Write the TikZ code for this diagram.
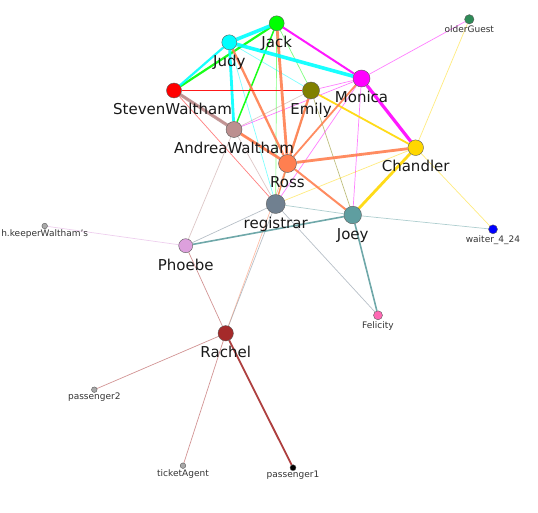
\documentclass[tikz,border=0pt]{standalone}
\usepackage{fontspec}
\setmainfont{DejaVu Sans}
\usetikzlibrary{calc}
\pgfdeclarelayer{bg}
\pgfsetlayers{bg,main}
\definecolor{cJack}{HTML}{00FF00}
\definecolor{cJudy}{HTML}{00FFFF}
\definecolor{cSteven}{HTML}{FF0000}
\definecolor{cEmily}{HTML}{808000}
\definecolor{cMonica}{HTML}{FF00FF}
\definecolor{cAndrea}{HTML}{BC8F8F}
\definecolor{cRoss}{HTML}{FF7F50}
\definecolor{cChandler}{HTML}{FFD700}
\definecolor{cRegistrar}{HTML}{708090}
\definecolor{cJoey}{HTML}{5F9EA0}
\definecolor{cPhoebe}{HTML}{DDA0DD}
\definecolor{cGrey}{HTML}{A9A9A9}
\definecolor{cRachel}{HTML}{A52A2A}
\definecolor{cFelicity}{HTML}{FF69B4}
\definecolor{cWaiter}{HTML}{0000FF}
\definecolor{cOlder}{HTML}{2E8B57}
\tikzset{
  pn/.style 2 args={circle, fill=#1, draw=black!65, line width=0.4pt, inner sep=0pt, minimum size=#2},
  biglbl/.style={anchor=base, inner sep=0pt, font=\fontsize{15}{18}\selectfont, text=black!90},
  smalllbl/.style={anchor=base, inner sep=0pt, font=\fontsize{9}{11}\selectfont, text=black!80},
  tk/.style 2 args={draw=#1, line width=#2, opacity=0.9},
  tn/.style={draw=#1, line width=0.7pt, opacity=0.5}
}
\begin{document}
\begin{tikzpicture}[x=1pt,y=-1pt]
\useasboundingbox (0,0) rectangle (538,513);
% nodes
\node[pn={cJack}{15pt}] (jack) at (276.7,23.3) {};
\node[pn={cJudy}{15pt}] (judy) at (229.3,42.3) {};
\node[pn={cSteven}{15pt}] (steven) at (174,90.5) {};
\node[pn={cEmily}{17pt}] (emily) at (311,90.5) {};
\node[pn={cMonica}{17pt}] (monica) at (361.5,78.5) {};
\node[pn={cAndrea}{16pt}] (andrea) at (234,129.5) {};
\node[pn={cRoss}{18pt}] (ross) at (287.5,163.5) {};
\node[pn={cChandler}{15.6pt}] (chandler) at (415.7,147.7) {};
\node[pn={cRegistrar}{19pt}] (registrar) at (275.7,204) {};
\node[pn={cJoey}{17.6pt}] (joey) at (352.7,215) {};
\node[pn={cPhoebe}{14pt}] (phoebe) at (185.7,245.7) {};
\node[pn={cGrey}{5.6pt}] (hkeeper) at (44.7,226) {};
\node[pn={cRachel}{15.4pt}] (rachel) at (225.7,333.3) {};
\node[pn={cFelicity}{9pt}] (felicity) at (378,315.3) {};
\node[pn={cWaiter}{9pt}] (waiter) at (493,229.3) {};
\node[pn={cOlder}{9.4pt}] (older) at (469.3,19.3) {};
\node[pn={cGrey}{5.6pt}] (pass2) at (94.3,389.7) {};
\node[pn={cGrey}{5.6pt}] (ticket) at (183,465.7) {};
\node[pn={black}{6pt}] (pass1) at (293,467.7) {};
% labels
\node[biglbl] (jackL) at ($(jack)+(0,24.5)$) {Jack};
\node[biglbl] (judyL) at ($(judy)+(0,24.5)$) {Judy};
\node[biglbl] (stevenL) at ($(steven)+(-1.5,24)$) {StevenWaltham};
\node[biglbl] (emilyL) at ($(emily)+(0,24.5)$) {Emily};
\node[biglbl] (monicaL) at ($(monica)+(0,24.5)$) {Monica};
\node[biglbl] (andreaL) at ($(andrea)+(0,24.5)$) {AndreaWaltham};
\node[biglbl] (rossL) at ($(ross)+(0,24.5)$) {Ross};
\node[biglbl] (chandlerL) at ($(chandler)+(0,23.5)$) {Chandler};
\node[biglbl] (registrarL) at ($(registrar)+(0,24.5)$) {registrar};
\node[biglbl] (joeyL) at ($(joey)+(0,24.5)$) {Joey};
\node[biglbl] (phoebeL) at ($(phoebe)+(0,24.5)$) {Phoebe};
\node[biglbl] (rachelL) at ($(rachel)+(0,24.5)$) {Rachel};
\node[smalllbl] (hkeeperL) at ($(hkeeper)+(0,10.5)$) {h.keeperWaltham's};
\node[smalllbl] (felicityL) at ($(felicity)+(0,13)$) {Felicity};
\node[smalllbl] (waiterL) at ($(waiter)+(0,13.3)$) {waiter\_4\_24};
\node[smalllbl] (olderL) at ($(older)+(0,13.4)$) {olderGuest};
\node[smalllbl] (pass2L) at ($(pass2)+(0,9.6)$) {passenger2};
\node[smalllbl] (ticketL) at ($(ticket)+(0,10.3)$) {ticketAgent};
\node[smalllbl] (pass1L) at ($(pass1)+(0,9.6)$) {passenger1};
% edges
\begin{pgfonlayer}{bg}
% thin edges
\draw[tn=cJack] (jack) -- (emily);
\draw[tn=cJack] (jack) -- (registrar);
\draw[tn=cJudy] (judy) -- (emily);
\draw[tn=cJudy] (judy) -- (registrar);
\draw[tn=cSteven] (steven) -- (registrar);
\draw[tn=cSteven] (steven) -- (ross);
\draw[tn=cEmily] (emily) -- (joey);
\draw[tn=cEmily] (emily) -- (registrar);
\draw[tn=cAndrea] (andrea) -- (emily);
\draw[tn=cMonica] (monica) -- (emily);
\draw[tn=cMonica] (monica) -- (andrea);
\draw[tn=cMonica] (monica) -- (registrar);
\draw[tn=cMonica] (monica) -- (joey);
\draw[tn=cMonica] (monica) -- (older);
\draw[tn=cChandler] (chandler) -- (registrar);
\draw[tn=cChandler] (chandler) -- (older);
\draw[tn=cChandler] (chandler) -- (waiter);
\draw[tn=cRoss] (ross) -- (rachel);
\draw[tn=cAndrea] (andrea) -- (registrar);
\draw[tn=cAndrea] (andrea) -- (phoebe);
\draw[tn=cJoey] (registrar) -- (joey);
\draw[tn=cRegistrar] (registrar) -- (phoebe);
\draw[tn=cRegistrar] (registrar) -- (felicity);
\draw[tn=cRegistrar] (registrar) -- (rachel);
\draw[tn=cPhoebe] (phoebe) -- (hkeeper);
\draw[tn=cRachel] (phoebe) -- (rachel);
\draw[tn=cJoey] (joey) -- (waiter);
\draw[tn=cRachel] (rachel) -- (pass2);
\draw[tn=cRachel] (rachel) -- (ticket);
% thick edges
\draw[tk={cRoss}{1.3pt}] (ross) -- (registrar);
\draw[tk={cJoey}{1.6pt}] (phoebe) -- (joey);
\draw[tk={cJoey}{1.6pt}] (joey) -- (felicity);
\draw[tk={cRachel}{1.8pt}] (rachel) -- (pass1);
\draw[tk={cJack}{1.5pt}] (jack) -- (andrea);
\draw[tk={cMonica}{2pt}] (jack) -- (monica);
\draw[tk={cJack}{2.2pt}] (jack) -- (steven);
\draw[tk={cJudy}{2.2pt}] (judy) -- (steven);
\draw[tk={cJudy}{2.8pt}] (judy) -- (andrea);
\draw[tk={cRoss}{2.3pt}] (judy) -- (ross);
\draw[tk={cSteven}{1.8pt}] (steven) -- (emily);
\draw[tk={cAndrea}{3.2pt}] (steven) -- (andrea);
\draw[tk={cRoss}{2.3pt}] (emily) -- (ross);
\draw[tk={cChandler}{1.8pt}] (emily) -- (chandler);
\draw[tk={cRoss}{1.8pt}] (monica) -- (ross);
\draw[tk={cRoss}{2.8pt}] (andrea) -- (ross);
\draw[tk={cRoss}{2pt}] (ross) -- (joey);
\draw[tk={cRoss}{2.8pt}] (jack) -- (ross);
\draw[tk={cRoss}{2.8pt}] (chandler) -- (ross);
\draw[tk={cChandler}{2.8pt}] (chandler) -- (joey);
\draw[tk={cMonica}{3.2pt}] (monica) -- (chandler);
\draw[tk={cJudy}{3.6pt}] (judy) -- (monica);
\draw[tk={cJudy}{3.6pt}] (jack) -- (judy);
\end{pgfonlayer}
\end{tikzpicture}
\end{document}
